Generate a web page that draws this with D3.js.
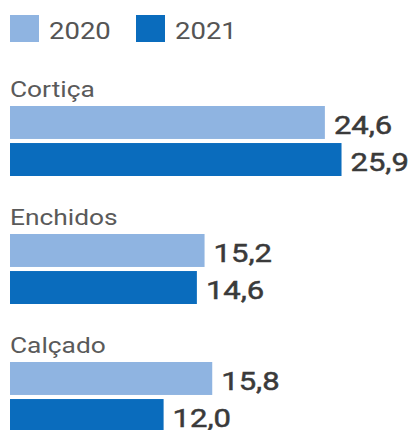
<!DOCTYPE html>
<html lang="pt">
<head>
<meta charset="utf-8">
<script src="https://cdn.jsdelivr.net/npm/d3@7"></script>
<style>
  html, body { margin: 0; padding: 0; background: #fff; }
  svg { display: block; }
  text { font-family: Roboto, "Noto Sans", sans-serif; }
</style>
</head>
<body>
<svg id="chart" width="414" height="430"></svg>
<script>
// Exportações por produto (milhões de euros)
const categories = ["Cortiça", "Enchidos", "Calçado"];
const years = ["2020", "2021"];
const values2020 = [24.6, 15.2, 15.8];
const values2021 = [25.9, 14.6, 12.0];
const seriesValues = [values2020, values2021];

const colors = { "2020": "#8fb4e1", "2021": "#0a6cbd" };
const sx = 1.17; // horizontal stretch of the lettering

const svg = d3.select("#chart");

// scales
const x = d3.scaleLinear().domain([0, 30]).range([10, 10 + 30 * 12.8]);
const yGroup = d3.scaleBand().domain(categories).range([78, 78 + 3 * 128]);
const yInner = d3.scaleBand().domain(years).range([28, 98]).paddingInner(0.11);

// legend
const legend = svg.append("g");
const legendX = d3.scaleOrdinal().domain(years).range([10, 136]);
years.forEach(yr => {
  const g = legend.append("g").attr("transform", `translate(${legendX(yr)},15)`);
  g.append("rect").attr("width", 29).attr("height", 27).attr("fill", colors[yr]);
  g.append("text")
    .attr("transform", `translate(39,24) scale(${sx},1)`)
    .attr("font-size", 23.5)
    .attr("fill", "#555")
    .text(yr);
});

// groups
const groups = svg.selectAll("g.cat")
  .data(categories)
  .join("g")
  .attr("class", "cat")
  .attr("transform", d => `translate(0,${yGroup(d)})`);

groups.append("text")
  .attr("transform", `translate(10,19) scale(${sx},1)`)
  .attr("font-size", 22.5)
  .attr("fill", "#5a5a5a")
  .text(d => d);

groups.each(function(cat, ci) {
  const g = d3.select(this);
  years.forEach((yr, yi) => {
    const v = seriesValues[yi][ci];
    g.append("rect")
      .attr("x", x(0))
      .attr("y", yInner(yr))
      .attr("width", x(v) - x(0))
      .attr("height", yInner.bandwidth())
      .attr("fill", colors[yr]);
    g.append("text")
      .attr("transform", `translate(${x(v) + 9},${yInner(yr) + yInner.bandwidth() - 5}) scale(${sx},1)`)
      .attr("font-size", 26.5)
      .attr("fill", "#3a3a3a")
      .attr("stroke", "#3a3a3a")
      .attr("stroke-width", 0.5)
      .text(d3.format(".1f")(v).replace(".", ","));
  });
});
</script>
</body>
</html>
